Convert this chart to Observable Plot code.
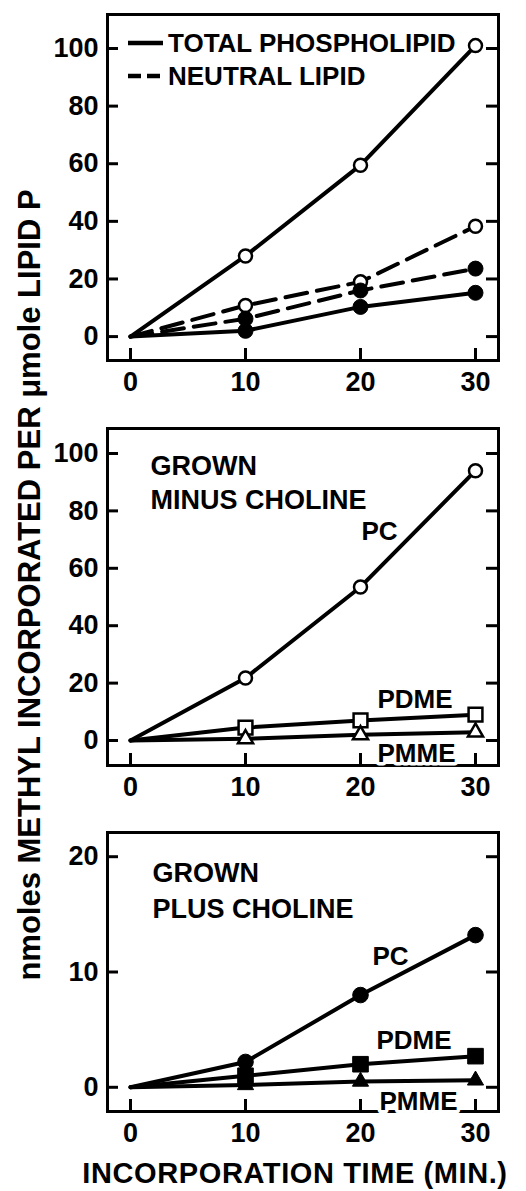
<!DOCTYPE html>
<html><head><meta charset="utf-8">
<script src="https://cdn.jsdelivr.net/npm/d3@7"></script>
<script src="https://cdn.jsdelivr.net/npm/@observablehq/plot@0.6"></script>
<style>
html,body{margin:0;padding:0;background:#fff;}
#root{position:relative;width:526px;height:1191px;overflow:hidden;}
#root > svg{position:absolute;left:0;}
</style></head><body><div id="root"></div>
<script>
// ---- data ----
const times = [0, 10, 20, 30];
const xTicks = [0, 10, 20, 30];
const yTicksBig = [0, 20, 40, 60, 80, 100];
const yTicksSmall = [0, 10, 20];

// top panel: total phospholipid (solid) and neutral lipid (dashed)
const totalMinusCholine = [0, 28, 59.5, 101];   // open circles
const totalPlusCholine = [0, 2, 10.3, 15.2];    // filled circles
const neutralMinusCholine = [0, 10.8, 19, 38.3]; // open circles
const neutralPlusCholine = [0, 6.2, 16, 23.6];   // filled circles

// middle panel: grown minus choline
const pcMinus = [0, 21.8, 53.5, 94];
const pdmeMinus = [0, 4.5, 7, 9];
const pmmeMinus = [0, 0.6, 2, 2.9];

// bottom panel: grown plus choline
const pcPlus = [0, 2.2, 8.0, 13.2];
const pdmePlus = [0, 1.0, 2.0, 2.7];
const pmmePlus = [0, 0.2, 0.5, 0.6];

const legendLabels = ["TOTAL PHOSPHOLIPID", "NEUTRAL LIPID"];
const yTitle = "nmoles METHYL INCORPORATED PER \u03bcmole LIPID P";
const xTitle = "INCORPORATION TIME (MIN.)";

// ---- drawing ----
const W = 526;
const FONT = '"Liberation Sans", Arial, Helvetica, sans-serif';
const root = document.getElementById("root");
const rowsOf = vals => times.map((t, i) => ({t, v: vals[i]}));

function panel({top, height, mt, mb, yDomain, yTicks, series, labels, title, titleDx, titleDy, titleLH}) {
  const ml = 107, mr = 28;
  const iw = W - ml - mr, ih = height - mt - mb;
  const marks = [
    Plot.frame({stroke: "black", strokeWidth: 3}),
    Plot.tickY(yTicks, {y: d => d, insetRight: iw - 11, strokeWidth: 3}),
    Plot.tickY(yTicks, {y: d => d, insetLeft: iw - 12, strokeWidth: 3}),
    Plot.tickX(xTicks, {x: d => d, insetTop: ih - 12, strokeWidth: 3}),
    Plot.axisX(xTicks, {tickSize: 0, tickPadding: 11, label: null, fontSize: 27}),
    Plot.axisY(yTicks, {tickSize: 0, tickPadding: 9, label: null, fontSize: 27})
  ];
  for (const s of series) {
    marks.push(Plot.line(rowsOf(s.values), {x: "t", y: "v", stroke: "black", strokeWidth: 4,
      strokeDasharray: s.dashed ? "22,10" : null, strokeLinejoin: "round"}));
  }
  for (const s of series) {
    marks.push(Plot.dot(rowsOf(s.values).filter(d => d.t > 0), {x: "t", y: "v", symbol: s.symbol,
      r: s.r, fill: s.open ? "white" : "black", stroke: "black", strokeWidth: s.open ? 2.5 : 1}));
  }
  for (const l of labels) {
    const row = rowsOf(l.values)[l.index];
    marks.push(Plot.text([row], {x: "t", y: "v", text: () => l.text, dx: l.dx, dy: l.dy,
      textAnchor: "start", lineAnchor: "middle", fontSize: 26, fill: "black",
      stroke: l.halo ? "white" : null, strokeWidth: l.halo ? 7 : null}));
  }
  if (title) {
    marks.push(Plot.text([title], {text: d => d, frameAnchor: "top-left", dx: titleDx, dy: titleDy,
      textAnchor: "start", lineAnchor: "top", lineHeight: titleLH, fontSize: 27, fill: "black"}));
  }
  const svg = Plot.plot({
    width: W, height,
    marginLeft: ml, marginRight: mr, marginTop: mt, marginBottom: mb,
    x: {domain: [-2, 32], axis: null},
    y: {domain: yDomain, axis: null},
    style: {fontFamily: FONT, fontWeight: "bold", fontSize: "27px", background: "white", color: "black"},
    marks
  });
  svg.style.top = top + "px";
  root.appendChild(svg);
}

panel({
  top: 0, height: 405, mt: 14, mb: 45, yDomain: [-8.3, 111.8], yTicks: yTicksBig,
  series: [
    {values: totalMinusCholine, dashed: false, symbol: "circle", r: 6.5, open: true},
    {values: totalPlusCholine, dashed: false, symbol: "circle", r: 7.5, open: false},
    {values: neutralMinusCholine, dashed: true, symbol: "circle", r: 6.5, open: true},
    {values: neutralPlusCholine, dashed: true, symbol: "circle", r: 7.5, open: false}
  ],
  labels: []
});

panel({
  top: 405, height: 405, mt: 23, mb: 45, yDomain: [-8.7, 108.7], yTicks: yTicksBig,
  series: [
    {values: pcMinus, symbol: "circle", r: 6.5, open: true},
    {values: pdmeMinus, symbol: "square", r: 7.8, open: true},
    {values: pmmeMinus, symbol: "triangle", r: 5.6, open: true}
  ],
  labels: [
    {values: pcMinus, index: 2, text: "PC", dx: 1, dy: -55},
    {values: pdmeMinus, index: 2, text: "PDME", dx: 17, dy: -21},
    {values: pmmeMinus, index: 2, text: "PMME", dx: 17, dy: 19, halo: true}
  ],
  title: "GROWN\nMINUS CHOLINE", titleDx: 43, titleDy: 22, titleLH: 1.27
});

panel({
  top: 810, height: 345, mt: 22, mb: 44, yDomain: [-2.1, 22.1], yTicks: yTicksSmall,
  series: [
    {values: pcPlus, symbol: "circle", r: 7.8, open: false},
    {values: pdmePlus, symbol: "square", r: 8.8, open: false},
    {values: pmmePlus, symbol: "triangle", r: 6, open: false}
  ],
  labels: [
    {values: pcPlus, index: 2, text: "PC", dx: 12, dy: -38},
    {values: pdmePlus, index: 2, text: "PDME", dx: 16, dy: -24},
    {values: pmmePlus, index: 2, text: "PMME", dx: 19, dy: 20, halo: true}
  ],
  title: "GROWN\nPLUS CHOLINE", titleDx: 45, titleDy: 25, titleLH: 1.3
});

// overlay: legend and shared axis titles
const ov = d3.select(root).append("svg")
  .attr("width", W).attr("height", 1191)
  .style("top", "0px").style("pointer-events", "none")
  .attr("font-family", FONT).attr("font-weight", "bold");

const leg = ov.append("g");
legendLabels.forEach((lab, i) => {
  const y = 43 + i * 33;
  leg.append("line").attr("x1", 128).attr("x2", 163).attr("y1", y).attr("y2", y)
    .attr("stroke", "black").attr("stroke-width", 4.5)
    .attr("stroke-dasharray", i === 1 ? "13,6" : null);
  leg.append("text").attr("x", 168).attr("y", y).attr("dy", "0.36em")
    .attr("font-size", 26).text(lab);
});

ov.append("text")
  .attr("transform", "translate(40,585) rotate(-90)")
  .attr("text-anchor", "middle").attr("font-size", 31)
  .text(yTitle);

ov.append("text")
  .attr("x", 295).attr("y", 1183).attr("font-size", 29)
  .attr("text-anchor", "middle").attr("letter-spacing", 0.6)
  .text(xTitle);
</script>
</body></html>
